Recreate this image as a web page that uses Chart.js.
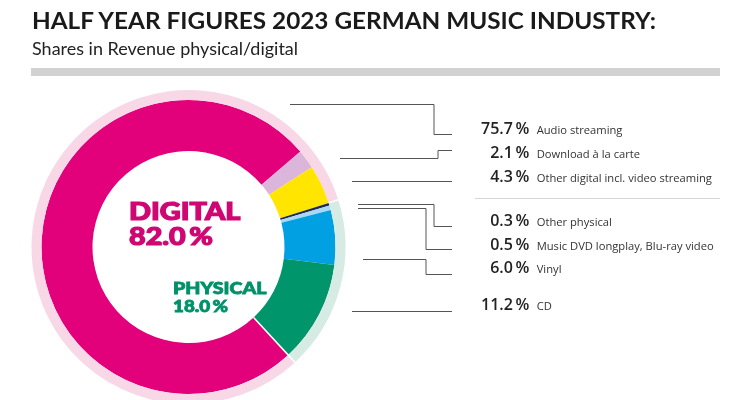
<!DOCTYPE html>
<html>
<head>
<meta charset="utf-8">
<script src="https://cdn.jsdelivr.net/npm/chart.js@4.4.0/dist/chart.umd.min.js"></script>
<style>
  body { margin: 0; background: #fff; }
  #wrap { position: relative; width: 750px; height: 400px; overflow: hidden; }
  #c { position: absolute; left: 0; top: 0; }
  .t { position: absolute; white-space: nowrap; line-height: 0; }
</style>
</head>
<body>
<div id="wrap">
  <canvas id="c" width="750" height="410"></canvas>
</div>
<script>
// data
const categories = ['Audio streaming', 'Download à la carte', 'Other digital incl. video streaming',
                    'Other physical', 'Music DVD longplay, Blu-ray video', 'Vinyl', 'CD'];
const shares = [75.7, 2.1, 4.3, 0.3, 0.5, 6.0, 11.2];
const groups = ['DIGITAL', 'PHYSICAL'];
const groupShares = [82.0, 18.0];

// styles
const segColors = ['#e3007b', '#dcb6da', '#ffe500', '#1d2a5c', '#a9d9f2', '#00a0e2', '#00956a'];
const ringColors = ['#f8d7e7', '#d6ebe3'];
const groupTextColors = ['#cf0773', '#00916a'];

// label rows (baselines) and leader lines, layout only
const rowBase = [134, 158, 182, 226, 250, 273.5, 310.5];
const leaders = [
  [[290, 104], [434, 104], [434, 134], [452, 134]],
  [[340, 158], [438, 158], [438, 150], [452, 150]],
  [[352, 181], [452, 181]],
  [[358, 204], [434, 204], [434, 226], [452, 226]],
  [[358, 208], [426, 208], [426, 249], [452, 249]],
  [[363, 259], [426, 259], [426, 274], [452, 274]],
  [[352, 311], [452, 311]]
];

const pct = v => v.toFixed(1) + '\u2009%';

const wrap = document.getElementById('wrap');
function txt(s, x, base, size, opts) {
  const d = document.createElement('div');
  d.className = 't';
  d.textContent = s;
  d.style.fontSize = size + 'px';
  d.style.fontFamily = opts.family || 'Lato';
  d.style.fontWeight = opts.weight || 400;
  d.style.color = opts.color || '#222';
  if (opts.stroke) d.style.webkitTextStroke = opts.stroke + 'px ' + opts.color;
  d.style.top = (base - 0.387 * size) + 'px';
  wrap.appendChild(d);
  const w0 = d.getBoundingClientRect().width;
  const w = opts.width || w0;
  if (opts.align === 'right') {
    d.style.left = (x - w0) + 'px';
    d.style.transformOrigin = '100% 0';
  } else {
    d.style.left = x + 'px';
    d.style.transformOrigin = '0 0';
  }
  if (opts.width) d.style.transform = 'scaleX(' + (w / w0) + ')';
  return d;
}

const gapLines = {
  id: 'gapLines',
  afterDatasetsDraw(chart) {
    const ctx = chart.ctx;
    const outer = chart.getDatasetMeta(0).data;
    const inner = chart.getDatasetMeta(1).data;
    ctx.save();
    ctx.strokeStyle = '#fff';
    ctx.lineWidth = 1.5;
    const seg = (arc, r0, r1) => {
      const a = arc.startAngle;
      ctx.beginPath();
      ctx.moveTo(arc.x + Math.cos(a) * r0, arc.y + Math.sin(a) * r0);
      ctx.lineTo(arc.x + Math.cos(a) * r1, arc.y + Math.sin(a) * r1);
      ctx.stroke();
    };
    seg(inner[0], inner[0].innerRadius, outer[0].outerRadius + 1);
    seg(outer[1], outer[1].innerRadius, outer[1].outerRadius + 1);
    // leader lines
    ctx.strokeStyle = '#555';
    ctx.lineWidth = 1;
    leaders.forEach(pts => {
      ctx.beginPath();
      pts.forEach((p, i) => i ? ctx.lineTo(p[0], p[1] + 0.5) : ctx.moveTo(p[0], p[1] + 0.5));
      ctx.stroke();
    });
    // separator
    ctx.strokeStyle = '#d4d4d4';
    ctx.beginPath();
    ctx.moveTo(475, 198.5);
    ctx.lineTo(720, 198.5);
    ctx.stroke();
    // grey bar under subtitle
    ctx.fillStyle = '#d2d2d2';
    ctx.fillRect(31, 68, 689, 8);
    ctx.restore();
  }
};

new Chart(document.getElementById('c'), {
  type: 'doughnut',
  data: {
    labels: categories,
    datasets: [{
      label: 'group',
      data: groupShares,
      backgroundColor: ringColors,
      borderWidth: 0,
      weight: 10
    }, {
      label: 'share',
      data: shares,
      backgroundColor: segColors,
      borderWidth: 0,
      weight: 51
    }]
  },
  options: {
    responsive: false,
    animation: false,
    devicePixelRatio: 1,
    rotation: 137.3,
    cutout: 96,
    layout: { padding: { left: 31.5, top: 90, right: 404.5, bottom: 6 } },
    plugins: { legend: { display: false }, tooltip: { enabled: false } }
  },
  plugins: [gapLines]
});

txt('HALF YEAR FIGURES 2023 GERMAN MUSIC INDUSTRY:', 31.5, 29.3, 22, { weight: 700, color: '#1a1a1a', width: 624 });
txt('Shares in Revenue physical/digital', 31.5, 55.5, 17, { weight: 400, color: '#222', width: 266 });

txt(groups[0], 129.3, 220.7, 24, { weight: 900, color: groupTextColors[0], stroke: 1.2, width: 111.5 });
txt(pct(groupShares[0]), 129.3, 245, 24, { weight: 900, color: groupTextColors[0], stroke: 1.2, width: 84 });
txt(groups[1], 173.3, 294, 16.5, { weight: 900, color: groupTextColors[1], stroke: 0.8, width: 93.5 });
txt(pct(groupShares[1]), 173.3, 312.3, 16.5, { weight: 900, color: groupTextColors[1], stroke: 0.8, width: 55 });

categories.forEach((c, i) => {
  txt(pct(shares[i]), 529.3, rowBase[i], 16, { family: 'Open Sans', weight: 600, color: '#222', align: 'right' });
  txt(c, 536.7, rowBase[i], 11.2, { family: 'Open Sans', weight: 400, color: '#333' });
});
</script>
</body>
</html>
